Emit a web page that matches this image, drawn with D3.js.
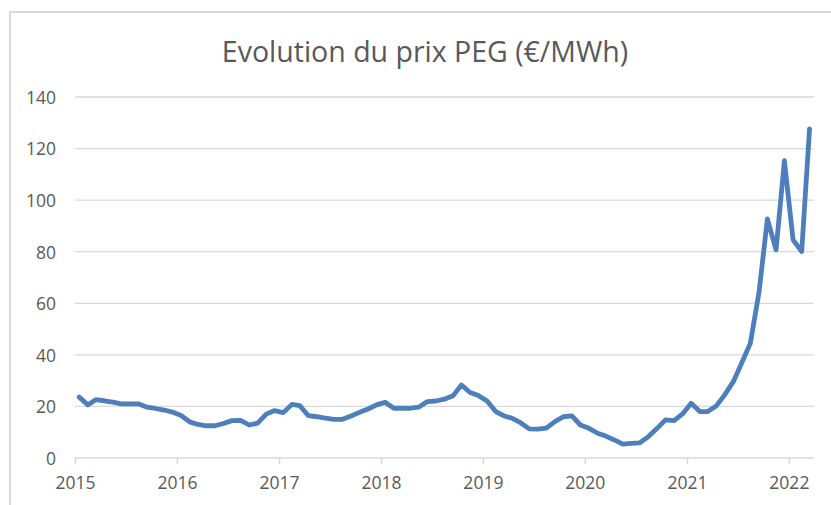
<!DOCTYPE html>
<html>
<head>
<meta charset="utf-8">
<script src="https://cdn.jsdelivr.net/npm/d3@7"></script>
<style>
  body { margin: 0; background: #fff; }
  svg { display: block; font-family: "Open Sans", sans-serif; }
</style>
</head>
<body>
<div id="chart"></div>
<script>
var title = "Evolution du prix PEG (€/MWh)";
var yTicks = [0, 20, 40, 60, 80, 100, 120, 140];
var yearTicks = ["2015", "2016", "2017", "2018", "2019", "2020", "2021", "2022"];

// monthly PEG prices, Jan 2015 -> Mar 2022
var prices2015 = [23.6, 20.6, 22.6, 22.2, 21.7, 21.0, 21.0, 21.0, 19.7, 19.2, 18.6, 17.8];
var prices2016 = [16.5, 14.0, 13.0, 12.5, 12.5, 13.4, 14.5, 14.6, 12.8, 13.5, 17.0, 18.4];
var prices2017 = [17.6, 20.8, 20.3, 16.4, 16.0, 15.5, 15.0, 15.0, 16.3, 17.7, 19.0, 20.6];
var prices2018 = [21.6, 19.3, 19.3, 19.3, 19.7, 21.9, 22.1, 22.8, 24.1, 28.3, 25.4, 24.2];
var prices2019 = [22.1, 18.0, 16.4, 15.4, 13.7, 11.3, 11.2, 11.6, 14.1, 16.0, 16.3, 12.8];
var prices2020 = [11.5, 9.6, 8.5, 7.0, 5.4, 5.7, 5.9, 8.3, 11.5, 14.8, 14.5, 17.1];
var prices2021 = [21.2, 18.0, 18.0, 20.2, 24.5, 29.6, 36.8, 44.5, 64.2, 92.7, 80.7, 115.3];
var prices2022 = [84.6, 80.1, 127.6];

var prices = [].concat(prices2015, prices2016, prices2017, prices2018,
                       prices2019, prices2020, prices2021, prices2022);

function drawChart() {
    var w = 831, h = 505;
    var x0 = 75, x1 = 814, y0 = 97, y1 = 458;

    var svg = d3.select("#chart").append("svg")
        .attr("width", w)
        .attr("height", h);

    // chart frame (only top/left edges fall inside the picture)
    svg.append("rect")
        .attr("x", 10).attr("y", 12)
        .attr("width", 840).attr("height", 510)
        .attr("fill", "none")
        .attr("stroke", "#d9d9d9")
        .attr("stroke-width", 2);

    svg.append("text")
        .attr("x", 425).attr("y", 62)
        .attr("text-anchor", "middle")
        .attr("fill", "#595959")
        .style("font-size", "28.5px")
        .text(title);

    var x = d3.scaleTime()
        .domain([new Date(2015, 0, 1), new Date(2022, 3, 1)])
        .range([x0, x1]);

    var y = d3.scaleLinear()
        .domain([0, 140])
        .range([y1, y0]);

    var data = prices.map(function(v, i) {
        var d = d3.timeMonth.offset(new Date(2015, 0, 1), i);
        return { date: new Date(d.getFullYear(), d.getMonth(), 16), value: v };
    });

    // gridlines
    svg.append("g").selectAll("line")
        .data(yTicks.filter(function(d) { return d > 0; }))
      .enter().append("line")
        .attr("x1", x0).attr("x2", x1)
        .attr("y1", function(d) { return y(d); })
        .attr("y2", function(d) { return y(d); })
        .attr("stroke", "#d9d9d9")
        .attr("stroke-width", 1.3);

    // y axis labels
    var yAxis = svg.append("g")
        .attr("transform", "translate(" + (x0 - 19) + ",0)")
        .call(d3.axisLeft(y).tickValues(yTicks).tickSize(0).tickPadding(0));
    yAxis.attr("font-family", null).attr("font-size", null);
    yAxis.select(".domain").remove();
    yAxis.selectAll("text")
        .attr("fill", "#595959")
        .style("font-size", "17.5px")
        .attr("dy", "0.36em");

    // x axis
    var yearDates = yearTicks.map(function(s) { return new Date(+s, 0, 1); });
    var xAxis = svg.append("g")
        .attr("transform", "translate(0," + y1 + ")")
        .call(d3.axisBottom(x).tickValues(yearDates).tickSize(6).tickPadding(13)
                .tickFormat(function(d, i) { return yearTicks[i]; }));
    xAxis.attr("font-family", null).attr("font-size", null);
    xAxis.select(".domain")
        .attr("d", "M" + x0 + ",0H" + x1)
        .attr("stroke", "#d9d9d9")
        .attr("stroke-width", 1.5);
    xAxis.selectAll(".tick line")
        .attr("stroke", "#d9d9d9")
        .attr("stroke-width", 1.5);
    xAxis.selectAll("text")
        .attr("fill", "#595959")
        .style("font-size", "17.5px");

    var line = d3.line()
        .x(function(d) { return x(d.date); })
        .y(function(d) { return y(d.value); });

    svg.append("path")
        .datum(data)
        .attr("d", line)
        .attr("fill", "none")
        .attr("stroke", "#4e7fbd")
        .attr("stroke-width", 4.8)
        .attr("stroke-linejoin", "round")
        .attr("stroke-linecap", "round");
}

drawChart();
</script>
</body>
</html>
